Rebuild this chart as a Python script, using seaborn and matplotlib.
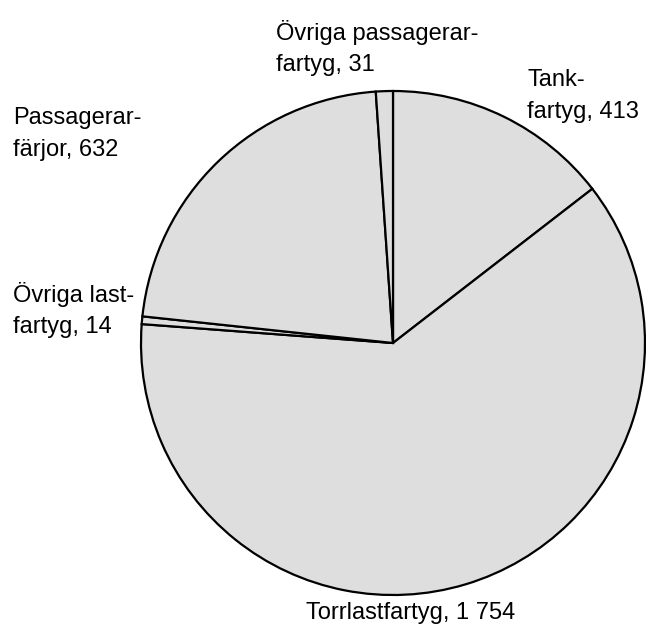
import matplotlib
matplotlib.use("Agg")
import matplotlib.pyplot as plt
import seaborn as sns

categories = ["Tank-\nfartyg", "Torrlastfartyg", "Övriga last-\nfartyg", "Passagerar-\nfärjor", "Övriga passagerar-\nfartyg"]
values = [413, 1754, 14, 632, 31]
value_labels = ["413", "1 754", "14", "632", "31"]

sns.set_theme(style="white")
plt.rcParams['font.family'] = ['Liberation Sans', 'DejaVu Sans']

W, H = 646, 630
fig = plt.figure(figsize=(W / 100, H / 100), dpi=100)
cx, cy, r = 393, 343, 252
ax = fig.add_axes([(cx - r) / W, (H - cy - r) / H, 2 * r / W, 2 * r / H])
ax.pie(values, startangle=90, counterclock=False, colors=["#dedede"] * len(values),
       wedgeprops=dict(edgecolor="black", linewidth=1.6, joinstyle="miter"), radius=1)
ax.set_xlim(-1, 1)
ax.set_ylim(-1, 1)
ax.set_aspect("equal")
ax.axis("off")

# label anchor positions in pixels (left x, center y)
label_pos = [(527, 96), (306, 613), (13, 310), (13, 134), (276, 48)]
for cat, vl, (px, py) in zip(categories, value_labels, label_pos):
    fig.text(px / W, 1 - py / H, f"{cat}, {vl}", ha="left", va="center",
             fontsize=17, linespacing=1.55, color="black")

fig.savefig("out.png", dpi=100, facecolor="white")
